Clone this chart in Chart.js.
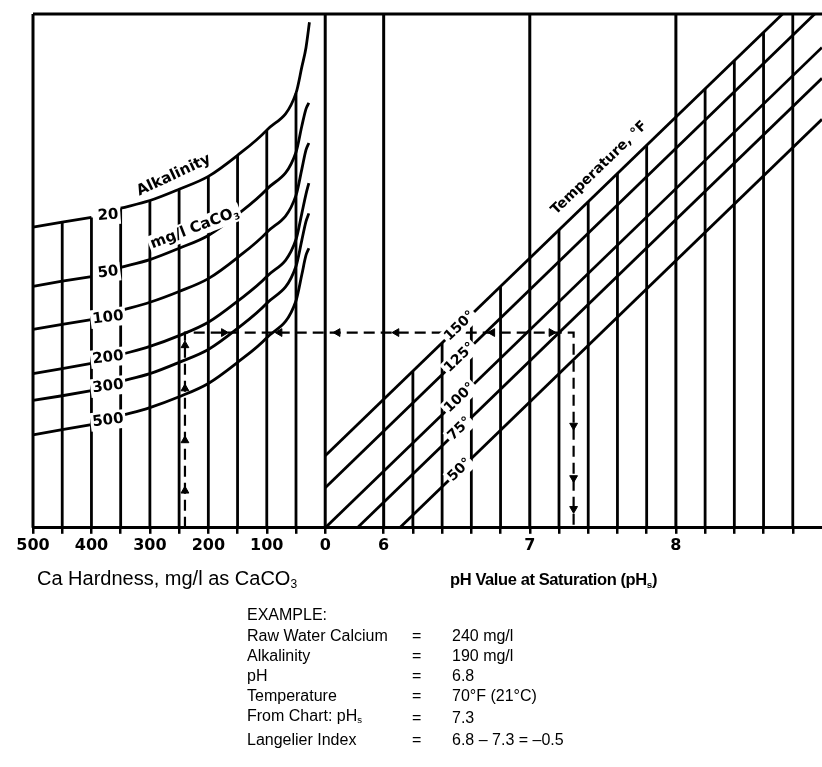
<!DOCTYPE html>
<html>
<head>
<meta charset="utf-8">
<script src="https://cdn.jsdelivr.net/npm/chart.js@4.4.1/dist/chart.umd.min.js"></script>
<style>
  html, body { margin: 0; padding: 0; background: #fff; }
  #wrap { position: relative; width: 822px; height: 767px; overflow: hidden; background: #fff; }
  #chart { position: absolute; left: 0; top: 0; }
  .axis-title { position: absolute; color: #000; white-space: nowrap; font-family: "Liberation Sans", Arial, sans-serif; line-height: 22px; }
  #hardTitle { left: 37px; top: 567px; font-size: 20px; }
  #phTitle { left: 450px; top: 568px; font-size: 16.5px; font-weight: bold; letter-spacing: -0.4px; }
  .axis-title sub { font-size: 60%; vertical-align: -3px; }
  #example { position: absolute; left: 247px; top: 603px; font-family: "Liberation Sans", Arial, sans-serif; font-size: 16px; color: #000; border-collapse: collapse; }
  #example td { padding: 0; height: 20px; line-height: 20px; white-space: nowrap; vertical-align: middle; }
  #example tr:first-child td { height: 23px; }
  #example td.k { width: 165px; }
  #example td.eq { width: 40px; }
  #example sub { font-size: 60%; vertical-align: -2px; }
</style>
</head>
<body>
<div id="wrap">
  <canvas id="chart" width="822" height="767"></canvas>
  <div class="axis-title" id="hardTitle">Ca Hardness, mg/l as CaCO<sub>3</sub></div>
  <div class="axis-title" id="phTitle">pH Value at Saturation (pH<sub>s</sub>)</div>
  <table id="example"></table>
</div>
<script>
// ---- Shared horizontal scale -------------------------------------------
// Calcium hardness (left panel) and pH (right panel) use one linear axis:
// 0 mg/l sits on pH 5.6 and every 250 mg/l spans one pH unit to the left.
const HARDNESS_ZERO_AT = 5.6;
const MG_PER_UNIT = 250;
const hx = h => HARDNESS_ZERO_AT - h / MG_PER_UNIT;

// Tick labels and grid positions
const HARDNESS_TICKS = [500, 400, 300, 200, 100, 0];
const HARDNESS_GRID  = [500, 450, 400, 350, 300, 250, 200, 150, 100, 50, 0];
const PH_TICKS = [6, 7, 8];
const PH_GRID  = [6.0, 6.2, 6.4, 6.6, 6.8, 7.0, 7.2, 7.4, 7.6, 7.8, 8.0, 8.2, 8.4, 8.6, 8.8];
const PH_FULL  = [6, 7, 8];

// ---- Alkalinity curves (mg/l CaCO3), vertical level 0..100 -------------
const ALK_NAMES    = ['20', '50', '100', '200', '300', '500'];
const ALK_HARDNESS = [500, 450, 400, 350, 300, 250, 200, 150, 100, 50, 40, 33];
const ALK_20  = [58.5, 59.5, 60.4, 62.2, 63.7, 65.9, 68.4, 72.5, 77.4, 84.6, 89.7, 93.4];
const ALK_50  = [47.0, 48.0, 48.9, 50.7, 52.2, 54.4, 56.9, 61.0, 65.9, 73.1, 78.2, 81.5];
const ALK_100 = [38.6, 39.6, 40.5, 42.3, 43.9, 46.0, 48.5, 52.6, 57.5, 64.7, 69.8, 73.5];
const ALK_200 = [30.0, 31.0, 32.0, 33.7, 35.3, 37.4, 40.0, 44.1, 48.9, 56.1, 61.2, 64.9];
const ALK_300 = [24.8, 25.7, 26.7, 28.5, 30.0, 32.2, 34.7, 38.8, 43.7, 50.9, 56.0, 59.6];
const ALK_500 = [18.1, 19.1, 20.1, 21.8, 23.4, 25.5, 28.1, 32.2, 37.0, 44.2, 49.3, 53.0];
const ALK_TIP_HARDNESS = [27, 28, 28, 28, 28, 28];
const ALK_TIP_LEVEL    = [98.4, 82.7, 74.9, 67.1, 61.2, 54.4];
const ALK_SERIES = [ALK_20, ALK_50, ALK_100, ALK_200, ALK_300, ALK_500];
const ALK_NAME_LEVEL = [60.8, 49.7, 40.9, 33.1, 27.5, 20.9];

// ---- Temperature lines (°F) ---------------------------------------------
const TEMP_NAMES       = ['150°', '125°', '100°', '75°', '50°'];
const TEMP_START_PH    = [5.6, 5.6, 5.6, 5.82, 6.11];
const TEMP_START_LEVEL = [14.0, 7.8, 0, 0, 0];
const TEMP_END_PH      = [8.73, 8.95, 9.0, 9.0, 9.0];
const TEMP_END_LEVEL   = [100, 100, 93.5, 87.5, 79.5];

// ---- Worked example -----------------------------------------------------
const EXAMPLE_CALCIUM = 240;   // mg/l
const EXAMPLE_PHS = 7.3;
const EXAMPLE_LEVEL = 38.0;
const ARROW_X     = [hx(240), hx(240), hx(240), hx(240), 4.906, 5.288, 5.685, 6.088, 6.744, 7.148, 7.3, 7.3, 7.3];
const ARROW_LEVEL = [35.5, 27.1, 17.0, 7.2, 38, 38, 38, 38, 38, 38, 19.9, 9.7, 3.7];
const ARROW_DIR   = [0, 0, 0, 0, 90, 270, 270, 270, 270, 90, 180, 180, 180];

const EXAMPLE_ROWS = [
  ['EXAMPLE:', '', ''],
  ['Raw Water Calcium', '=', '240 mg/l'],
  ['Alkalinity', '=', '190 mg/l'],
  ['pH', '=', '6.8'],
  ['Temperature', '=', '70°F (21°C)'],
  ['From Chart: pH<sub>s</sub>', '=', '7.3'],
  ['Langelier Index', '=', '6.8 – 7.3 = –0.5']
];

// ---- Build the example text ----------------------------------------------
document.getElementById('example').innerHTML = EXAMPLE_ROWS.map(r =>
  `<tr><td class="k">${r[0]}</td><td class="eq">${r[1]}</td><td>${r[2]}</td></tr>`).join('');

// ---- Datasets ---------------------------------------------------------------
const datasets = [];
function addLine(points, extra) {
  datasets.push(Object.assign({
    data: points, showLine: true, pointRadius: 0, pointHoverRadius: 0, borderColor: '#000',
    borderWidth: 2.8, fill: false, clip: false, tension: 0
  }, extra || {}));
}
const lerp = (x0, y0, x1, y1, x) => y0 + (y1 - y0) * (x - x0) / (x1 - x0);
const level150 = p => Math.min(100, lerp(TEMP_START_PH[0], TEMP_START_LEVEL[0], TEMP_END_PH[0], TEMP_END_LEVEL[0], p));

// frame: left edge, top edge, hardness-zero line, whole pH lines
addLine([{x: hx(500), y: 0}, {x: hx(500), y: 100}], {borderWidth: 3});
addLine([{x: hx(500), y: 100}, {x: 9.0, y: 100}], {borderWidth: 3});
addLine([{x: hx(0), y: 0}, {x: hx(0), y: 100}], {borderWidth: 3});
PH_FULL.forEach(p => addLine([{x: p, y: 0}, {x: p, y: 100}], {borderWidth: 3}));

// hardness grid rises to the 20 mg/l alkalinity curve
HARDNESS_GRID.filter(h => h > 0 && h < 500).forEach(h => {
  const top = ALK_20[ALK_HARDNESS.indexOf(h)];
  addLine([{x: hx(h), y: 0}, {x: hx(h), y: top}]);
});

// pH grid rises to the 150 °F line
PH_GRID.filter(p => !PH_FULL.includes(p)).forEach(p => {
  addLine([{x: p, y: 0}, {x: p, y: level150(p)}]);
});

// alkalinity curves, broken between 400 and 350 mg/l for their names
ALK_SERIES.forEach((vals, i) => {
  const pts = ALK_HARDNESS.map((h, j) => ({h, x: hx(h), y: vals[j]}));
  pts.push({h: ALK_TIP_HARDNESS[i], x: hx(ALK_TIP_HARDNESS[i]), y: ALK_TIP_LEVEL[i]});
  addLine(pts.filter(p => p.h >= 400).map(p => ({x: p.x, y: p.y})));
  addLine(pts.filter(p => p.h <= 350).map(p => ({x: p.x, y: p.y})), {cubicInterpolationMode: 'monotone'});
});

// temperature lines
TEMP_NAMES.forEach((t, i) => {
  addLine([{x: TEMP_START_PH[i], y: TEMP_START_LEVEL[i]}, {x: TEMP_END_PH[i], y: TEMP_END_LEVEL[i]}]);
});

// worked example path
addLine([
  {x: hx(EXAMPLE_CALCIUM), y: 0}, {x: hx(EXAMPLE_CALCIUM), y: EXAMPLE_LEVEL},
  {x: EXAMPLE_PHS, y: EXAMPLE_LEVEL}, {x: EXAMPLE_PHS, y: 0}
], {borderWidth: 2.2, borderDash: [11, 6]});
datasets.push({
  data: ARROW_X.map((x, i) => ({x, y: ARROW_LEVEL[i]})),
  showLine: false, pointStyle: 'triangle', pointRadius: 4.5, pointHoverRadius: 4.5,
  pointRotation: ARROW_DIR, backgroundColor: '#000', borderColor: '#000', borderWidth: 1, clip: false
});

// ---- Text drawn along the curves and lines ------------------------------
const FONT = 'DejaVu Sans';
function drawTag(ctx, parts, px, py, angle, size, box) {
  ctx.save();
  ctx.translate(px, py);
  ctx.rotate(angle);
  ctx.textBaseline = 'middle';
  ctx.textAlign = 'left';
  let w = 0;
  parts.forEach(p => {
    ctx.font = `bold ${p.sub ? Math.round(size * 0.62) : size}px "${FONT}"`;
    p.w = ctx.measureText(p.t).width; w += p.w;
  });
  if (box) {
    ctx.fillStyle = '#fff';
    ctx.fillRect(-w / 2 - 2, -size * 0.62, w + 4, size * 1.24);
  }
  ctx.fillStyle = '#000';
  let cx = -w / 2;
  parts.forEach(p => {
    ctx.font = `bold ${p.sub ? Math.round(size * 0.62) : size}px "${FONT}"`;
    ctx.fillText(p.t, cx, p.sub ? size * 0.3 : 0);
    cx += p.w;
  });
  ctx.restore();
}

const tagPlugin = {
  id: 'nomogramTags',
  afterDatasetsDraw(chart) {
    const {ctx} = chart;
    const X = chart.scales.x, Y = chart.scales.y;
    const deg = d => d * Math.PI / 180;
    // alkalinity values in the gap of each curve
    ALK_NAMES.forEach((n, i) => {
      drawTag(ctx, [{t: n}], X.getPixelForValue(hx(375)) + 2, Y.getPixelForValue(ALK_NAME_LEVEL[i]),
        deg(i === 0 ? -4 : -7), 15, true);
    });
    drawTag(ctx, [{t: 'Alkalinity'}], X.getPixelForValue(4.564), Y.getPixelForValue(68.6), deg(-25), 15, false);
    drawTag(ctx, [{t: 'mg/l CaCO'}, {t: '3', sub: true}], X.getPixelForValue(4.707), Y.getPixelForValue(58.3), deg(-21), 15, true);
    // temperature values sit in gaps of their lines
    TEMP_NAMES.forEach((t, i) => {
      const x0 = X.getPixelForValue(TEMP_START_PH[i]), y0 = Y.getPixelForValue(TEMP_START_LEVEL[i]);
      const x1 = X.getPixelForValue(TEMP_END_PH[i]), y1 = Y.getPixelForValue(TEMP_END_LEVEL[i]);
      const ang = Math.atan2(y1 - y0, x1 - x0);
      const p = 6.52;
      const lv = lerp(TEMP_START_PH[i], TEMP_START_LEVEL[i], TEMP_END_PH[i], TEMP_END_LEVEL[i], p);
      drawTag(ctx, [{t: t}], X.getPixelForValue(p), Y.getPixelForValue(lv), ang, 14, true);
    });
    const a0 = Math.atan2(Y.getPixelForValue(TEMP_END_LEVEL[0]) - Y.getPixelForValue(TEMP_START_LEVEL[0]),
                          X.getPixelForValue(TEMP_END_PH[0]) - X.getPixelForValue(TEMP_START_PH[0]));
    drawTag(ctx, [{t: 'Temperature, °F'}], X.getPixelForValue(7.476), Y.getPixelForValue(70.0), a0, 14, false);
  }
};

// ---- Axis ticks -------------------------------------------------------------
const TICK_POSITIONS = HARDNESS_GRID.map(hx).concat(PH_GRID);
function tickText(v) {
  for (const h of HARDNESS_TICKS) if (Math.abs(hx(h) - v) < 1e-6) return String(h);
  for (const p of PH_TICKS) if (Math.abs(p - v) < 1e-6) return String(p);
  return '';
}

new Chart(document.getElementById('chart'), {
  type: 'scatter',
  data: {datasets},
  plugins: [tagPlugin],
  options: {
    responsive: false,
    animation: false,
    events: [],
    layout: {autoPadding: false, padding: {left: 33, top: 14, right: 0, bottom: 210}},
    plugins: {legend: {display: false}, tooltip: {enabled: false}},
    scales: {
      x: {
        type: 'linear', min: 3.6, max: 9.0, position: 'bottom',
        afterBuildTicks: s => { s.ticks = TICK_POSITIONS.map(v => ({value: v})); },
        ticks: {
          autoSkip: false, maxRotation: 0, minRotation: 0, padding: 2, color: '#000',
          font: {family: FONT, weight: 'bold', size: 16},
          callback: v => tickText(v)
        },
        grid: {drawOnChartArea: false, drawTicks: true, tickLength: 6, color: '#000', lineWidth: 2.5},
        border: {display: true, color: '#000', width: 3}
      },
      y: {type: 'linear', min: 0, max: 100, display: false}
    }
  }
});
</script>
</body>
</html>
